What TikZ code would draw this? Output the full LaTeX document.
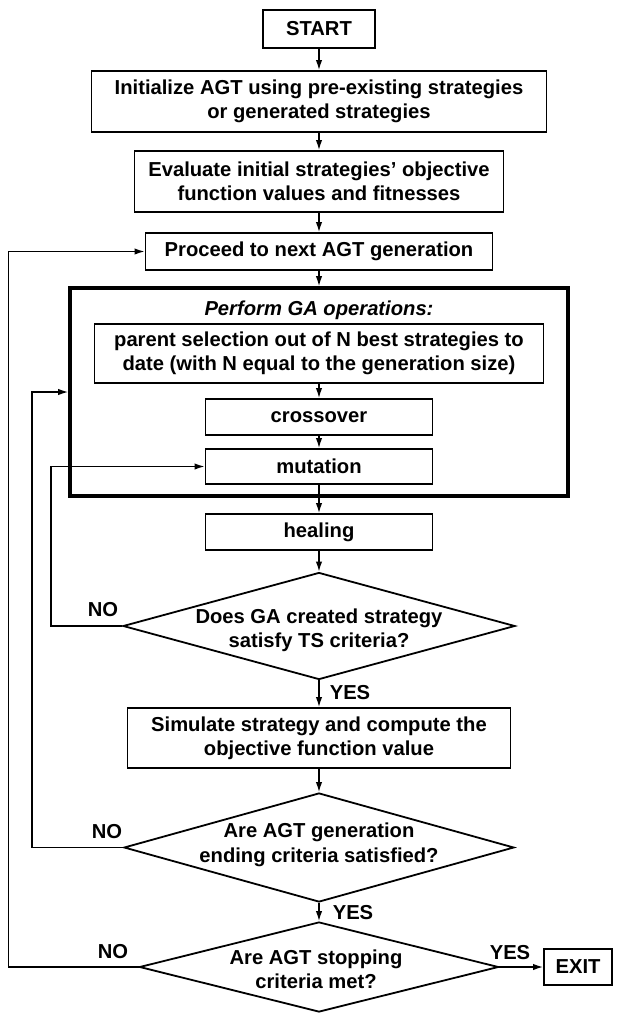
\documentclass[tikz,border=0pt]{standalone}
\usepackage{fontspec}
\setmainfont{Liberation Sans}
\usetikzlibrary{shapes,arrows.meta,positioning}

\tikzset{
	box/.style={rectangle, draw, line width=0.9pt, align=center, inner sep=0pt},
	dec/.style={diamond, draw, line width=0.9pt, inner sep=0pt},
	arr/.style={-{Latex[length=5pt,width=3.2pt]}, line width=0.7pt}
}

\begin{document}
\begin{tikzpicture}[x=0.5pt, y=-0.5pt, font=\fontsize{10.1}{12.2}\selectfont\bfseries]
		\useasboundingbox (0,0) rectangle (618,1013);
		\node (gabox) at (319,392) [draw, line width=1.8pt, minimum width=249pt, minimum height=104pt] {};
		\node (ops) at (319,310) {\itshape Perform GA operations:};
		\begin{scope}[every node/.style={box}]
			\node (start) at (319,29) [minimum width=56pt, minimum height=19pt] {START};
			\node (init) at (319,101.5) [minimum width=227.5pt, minimum height=30.5pt] {Initialize AGT using pre-existing strategies\\or generated strategies};
			\node (eval) at (319,181.5) [minimum width=184.5pt, minimum height=30.5pt] {Evaluate initial strategies' objective\\function values and fitnesses};
			\node (proceed) at (319,251.5) [minimum width=173.5pt, minimum height=18.5pt] {Proceed to next AGT generation};
			\node (parent) at (319,353.5) [minimum width=224.5pt, minimum height=29.5pt] {parent selection out of N best strategies to\\date (with N equal to the generation size)};
			\node (cross) at (319,417) [minimum width=113.5pt, minimum height=18pt] {crossover};
			\node (mutation) at (319,466.5) [minimum width=113.5pt, minimum height=17.5pt] {mutation};
			\node (healing) at (319,532) [minimum width=113.5pt, minimum height=18pt] {healing};
			\node (sim) at (319,738) [minimum width=191.5pt, minimum height=30pt] {Simulate strategy and compute the\\objective function value};
			\node (exit) at (578,967) [minimum width=34pt, minimum height=18pt] {EXIT};
		\end{scope}
		\begin{scope}[every node/.style={dec}]
			\node (dec1) at (319,626) [minimum width=196pt, minimum height=53.5pt] {};
			\node (dec2) at (319,847.5) [minimum width=195pt, minimum height=54.5pt] {};
			\node (dec3) at (319,967) [minimum width=179.5pt, minimum height=45pt] {};
		\end{scope}
		\begin{scope}[every node/.style={align=center, inner sep=0pt}]
			\node (dec1txt) at (319,630) {Does GA created strategy\\satisfy TS criteria?};
			\node (dec2txt) at (319,845) {Are AGT generation\\ending criteria satisfied?};
			\node (dec3txt) at (316,969) {Are AGT stopping\\criteria met?};
			\node (no1) at (103,610) {NO};
			\node (yes1) at (350,693) {YES};
			\node (no2) at (107,832) {NO};
			\node (yes2) at (353,913) {YES};
			\node (no3) at (113,952) {NO};
			\node (yes3) at (510,953) {YES};
		\end{scope}
		\begin{scope}[every path/.style={arr}]
			\draw (start) -- (init);
			\draw (init) -- (eval);
			\draw (eval) -- (proceed);
			\draw (proceed) -- (gabox.north);
			\draw (parent) -- (cross);
			\draw (cross) -- (mutation);
			\draw (mutation) -- (healing);
			\draw (healing) -- (dec1.north);
			\draw (dec1.south) -- (sim);
			\draw (sim) -- (dec2.north);
			\draw (dec2.south) -- (dec3.north);
			\draw (dec3.east) -- (exit);
			\draw (dec1.west) -- ++(-71,0) |- (mutation.west);
			\draw (dec2.west) -- ++(-91,0) |- (gabox.west);
			\draw (dec3.west) -- ++(-130,0) |- (proceed.west);
		\end{scope}
	\end{tikzpicture}
\end{document}
